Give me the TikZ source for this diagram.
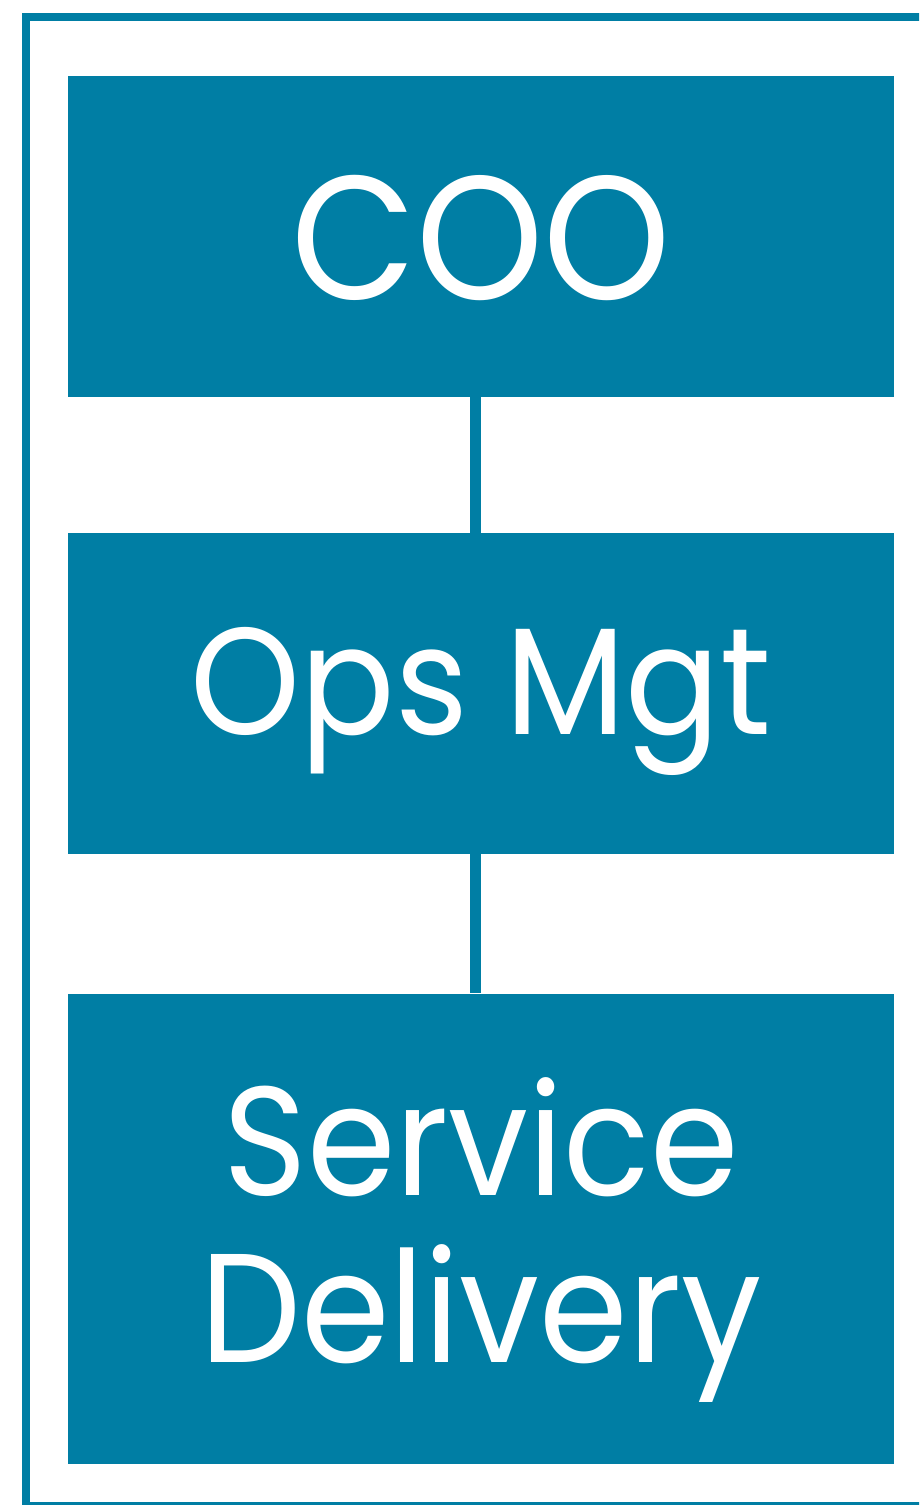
\documentclass[tikz,border=0pt]{standalone}
\usepackage{fontspec}
\setmainfont{Poppins}[FakeStretch=0.92]
\definecolor{teal}{RGB}{0,126,164}
\tikzstyle{box}=[rectangle, minimum width=826pt, inner sep=0, fill=teal, text=white, align=center, text depth=0pt]
\tikzstyle{link}=[teal, line width=11pt]
\tikzstyle{frame}=[teal, line width=8pt]

\begin{document}
\begin{tikzpicture}[x=1pt,y=-1pt]
\useasboundingbox (0,0) rectangle (919,1505);
\clip (0,0) rectangle (919,1505);

\draw[frame] (26,17) rectangle (930,1506);

\node[box, minimum height=321pt, text height=126pt, font=\fontsize{176}{176}\selectfont] (coo) at (481,236.5) {COO};
\node[box, minimum height=321pt, text height=81pt, font=\fontsize{152}{152}\selectfont] (ops) at (481,693.5) {Ops Mgt};
\node[box, minimum height=470pt, text height=267pt, font=\fontsize{155}{167}\selectfont] (svc) at (481,1228.5) {Service\\Delivery};

\draw[link] ([xshift=-5.5pt]coo.south) -- ([xshift=-5.5pt]ops.north);
\draw[link] ([xshift=-5.5pt]ops.south) -- ([xshift=-5.5pt]svc.north);
\end{tikzpicture}
\end{document}
